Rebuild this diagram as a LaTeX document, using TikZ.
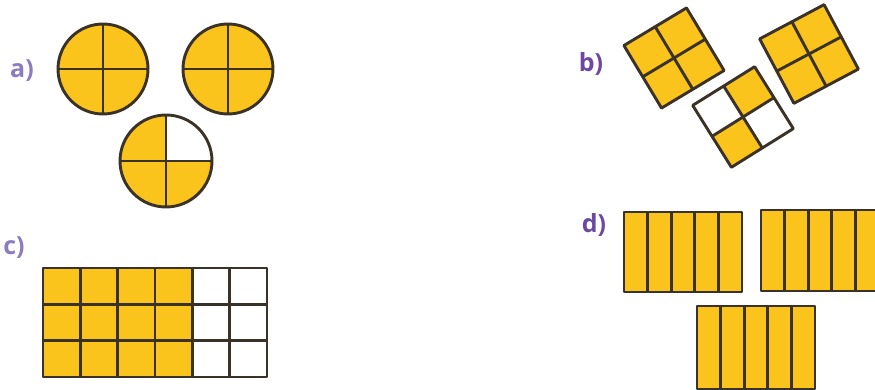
\documentclass[tikz,border=0pt]{standalone}
\usepackage{fontspec}
\setsansfont{Open Sans}
\usepackage{tikz}
\definecolor{fracyellow}{RGB}{250,196,28}
\definecolor{fracline}{RGB}{58,50,38}
\definecolor{lightpurple}{RGB}{140,124,190}
\definecolor{darkpurple}{RGB}{108,72,162}

\begin{document}
\begin{tikzpicture}[x=1pt, y=-1pt,
    part/.style={font=\sffamily\bfseries\fontsize{25}{27}\selectfont, inner sep=0pt},
    piece/.style={fill=fracyellow},
    edge/.style={draw=fracline, line width=2.9pt, line join=round}]

    \useasboundingbox (0,0) rectangle (875,390);
    \clip (0,0) rectangle (875,390);

    % labels
    \node [part, text=lightpurple] (la) at (22,71) {a)};
    \node [part, text=darkpurple] (lb) at (591,64) {b)};
    \node [part, text=lightpurple] (lc) at (14,248) {c)};
    \node [part, text=darkpurple] (ld) at (594,225) {d)};

    % a) circles
    \foreach \cx/\cy in {103/69, 228/69} {
        \fill [piece] (\cx,\cy) circle [radius=45pt];
        \draw [edge] (\cx,\cy) circle [radius=45pt];
        \draw [edge] (\cx-45,\cy) -- (\cx+45,\cy) (\cx,\cy-45) -- (\cx,\cy+45);
    }
    \fill [piece] (166,161) -- (166,115) arc [start angle=90, end angle=360, radius=46pt] -- cycle;
    \draw [edge] (166,161) circle [radius=46pt];
    \draw [edge] (120,161) -- (212,161) (166,115) -- (166,207);

    % b) squares
    \foreach \cx/\cy/\rot in {674/58/31, 809/54/28} {
        \begin{scope}[shift={(\cx,\cy)}, rotate=\rot]
            \fill [piece] (-36.5,-36.5) rectangle (36.5,36.5);
            \draw [edge] (-36.5,-36.5) rectangle (36.5,36.5)
                (0,-36.5) -- (0,36.5) (-36.5,0) -- (36.5,0);
        \end{scope}
    }
    \begin{scope}[shift={(743,117)}, rotate=32]
        \fill [piece] (0,-36.5) rectangle (36.5,0);
        \fill [piece] (-36.5,0) rectangle (0,36.5);
        \draw [edge] (-36.5,-36.5) rectangle (36.5,36.5)
            (0,-36.5) -- (0,36.5) (-36.5,0) -- (36.5,0);
    \end{scope}

    % c) grid
    \fill [piece] (43,268) rectangle (192.3,377);
    \foreach \i in {1,...,5}
        \draw [edge] (43+\i*37.33,268) -- (43+\i*37.33,377);
    \foreach \j in {1,2}
        \draw [edge] (43,268+\j*36.33) -- (267,268+\j*36.33);
    \draw [edge] (43,268) rectangle (267,377);

    % d) strips
    \foreach \x/\y/\h in {624/212/80, 761/210/81, 697/306/83} {
        \fill [piece] (\x,\y) rectangle (\x+118,\y+\h);
        \foreach \k in {1,...,4}
            \draw [edge] (\x+\k*23.6,\y) -- (\x+\k*23.6,\y+\h);
        \draw [edge] (\x,\y) rectangle (\x+118,\y+\h);
    }
\end{tikzpicture}
\end{document}
